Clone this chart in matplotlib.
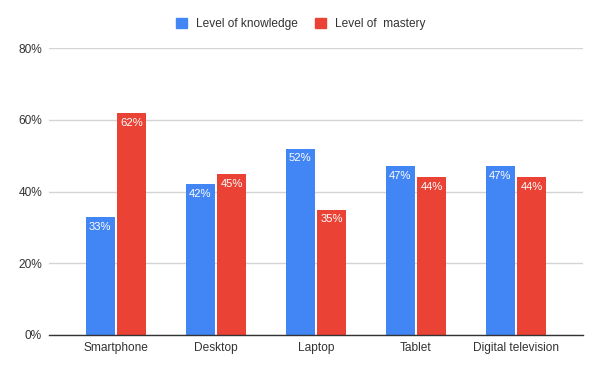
import matplotlib
matplotlib.use("Agg")
import matplotlib.pyplot as plt
import numpy as np
from matplotlib.patches import Patch

devices = ["Smartphone", "Desktop", "Laptop", "Tablet", "Digital television"]
knowledge = [33, 42, 52, 47, 47]
mastery = [62, 45, 35, 44, 44]
series_names = ["Level of knowledge", "Level of  mastery"]
yticks = [0, 20, 40, 60, 80]

plt.rcParams["font.family"] = ["Liberation Sans", "DejaVu Sans"]
blue, red = "#4285F4", "#EA4335"
txt = "#333333"

fig = plt.figure(figsize=(6.02, 3.72), dpi=100)
ax = fig.add_axes([0.0814, 0.0995, 0.887, 0.771])

x = np.arange(len(devices))
w = 0.295
off = 0.157
b1 = ax.bar(x - off, knowledge, w, color=blue, zorder=3)
b2 = ax.bar(x + off, mastery, w, color=red, zorder=3)

# value labels inside the top of each bar
for bars, vals in ((b1, knowledge), (b2, mastery)):
    for b, v in zip(bars, vals):
        ax.annotate(f"{v}%", (b.get_x() + b.get_width() / 2, v), xytext=(0, -3.5),
                    textcoords="offset points", ha="center", va="top",
                    color="white", fontsize=8.1, zorder=4)

ax.set_xlim(-0.67, 4.67)
ax.set_ylim(0, 80)
ax.set_yticks(yticks)
ax.set_yticklabels([f"{t}%" for t in yticks])
ax.set_xticks(x)
ax.set_xticklabels(devices)
ax.grid(axis="y", color="#d4d4d4", linewidth=1, zorder=0)
for s in ("top", "right", "left"):
    ax.spines[s].set_visible(False)
ax.spines["bottom"].set_color("#333333")
ax.spines["bottom"].set_linewidth(1)
ax.spines["bottom"].set_zorder(5)
ax.tick_params(axis="both", length=0, labelsize=8.6, colors=txt)
ax.tick_params(axis="y", pad=5)
ax.tick_params(axis="x", pad=5)

handles = [Patch(color=blue), Patch(color=red)]
fig.legend(handles, series_names, loc="center", bbox_to_anchor=(0.5, 0.935), ncol=2,
           frameon=False, fontsize=8.6, handlelength=0.92, handleheight=0.92,
           columnspacing=1.43, handletextpad=0.75, labelcolor=txt)

fig.savefig("out.png", dpi=100)
